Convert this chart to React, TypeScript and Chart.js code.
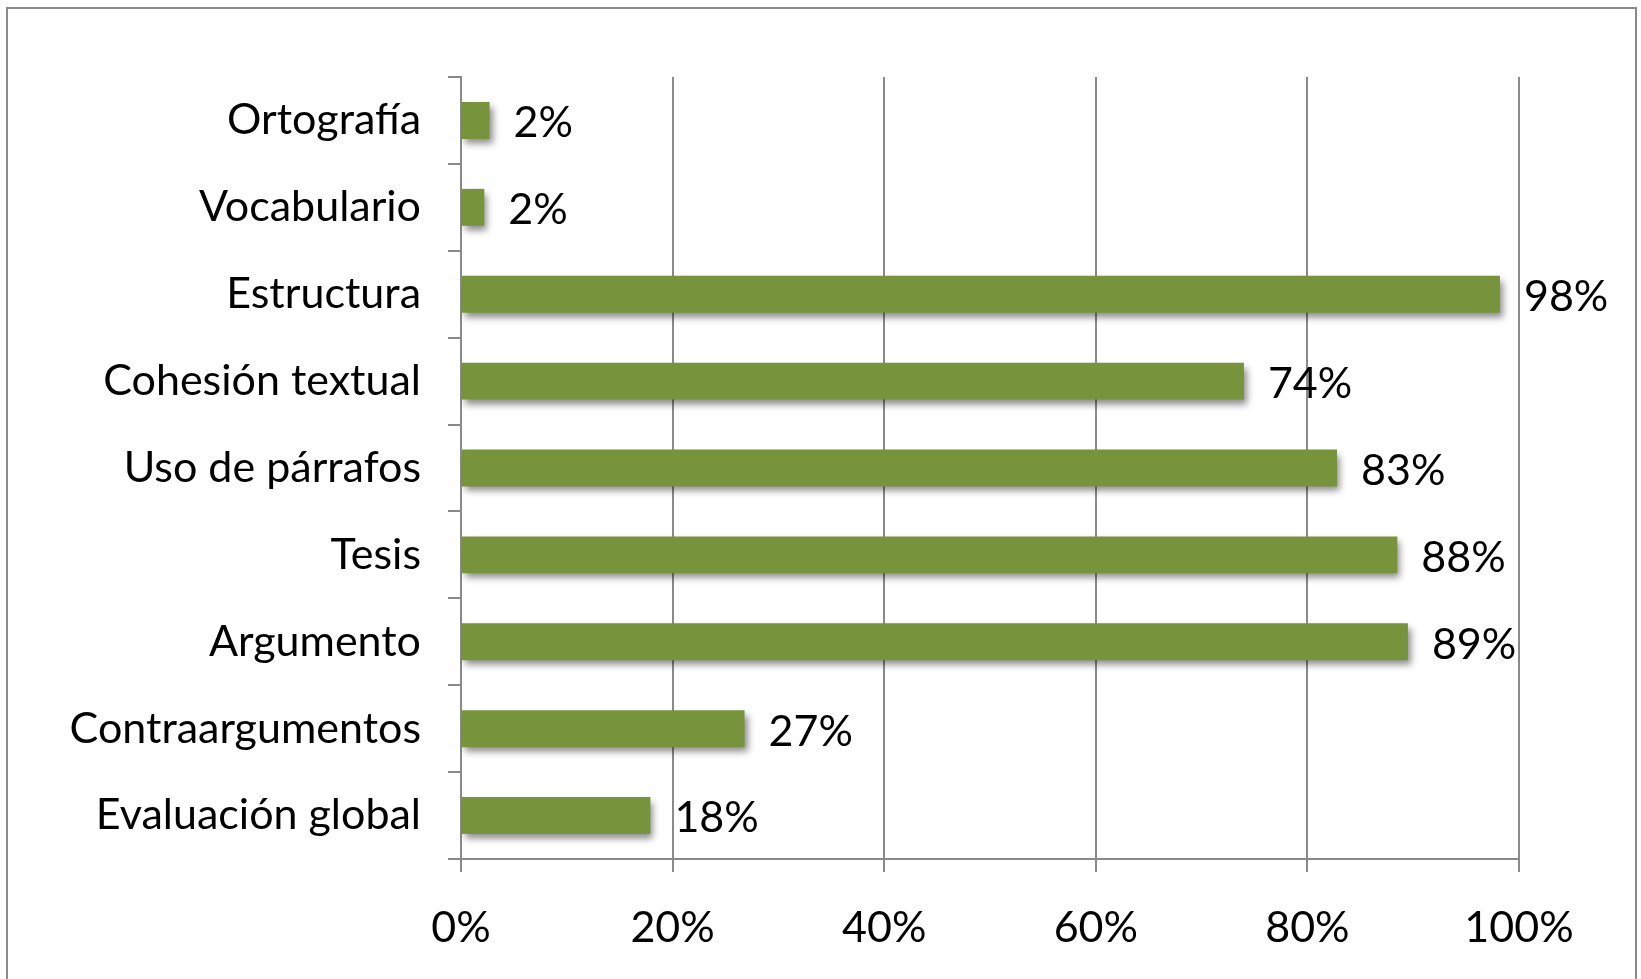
import React, { useEffect, useRef } from "react";
import { Chart, registerables } from "chart.js";

Chart.register(...registerables);

const categories = [
  "Ortografía",
  "Vocabulario",
  "Estructura",
  "Cohesión textual",
  "Uso de párrafos",
  "Tesis",
  "Argumento",
  "Contraargumentos",
  "Evaluación global",
];
const values = [2.7, 2.2, 98.2, 74.0, 82.8, 88.5, 89.5, 26.8, 17.9];
const valueLabels = ["2%", "2%", "98%", "74%", "83%", "88%", "89%", "27%", "18%"];
const xTicks = [0, 20, 40, 60, 80, 100];

const FONT = "Lato, 'Open Sans', sans-serif";
const FONT_SIZE = 43;
const GRAY = "#8a8a8a";

const framePlugin = {
  id: "frame",
  beforeDraw(chart: any) {
    const ctx = chart.ctx;
    ctx.save();
    ctx.fillStyle = "#ffffff";
    ctx.fillRect(0, 0, chart.width, chart.height);
    ctx.strokeStyle = GRAY;
    ctx.lineWidth = 2;
    ctx.strokeRect(7, 8, 1629, 1000);
    ctx.restore();
  },
};

const shadowPlugin = {
  id: "barShadow",
  beforeDatasetDraw(chart: any) {
    const ctx = chart.ctx;
    ctx.save();
    ctx.shadowColor = "rgba(0,0,0,0.45)";
    ctx.shadowBlur = 7;
    ctx.shadowOffsetX = 3;
    ctx.shadowOffsetY = 5;
  },
  afterDatasetDraw(chart: any) {
    chart.ctx.restore();
  },
};

const labelPlugin = {
  id: "valueLabels",
  afterDatasetsDraw(chart: any) {
    const ctx = chart.ctx;
    const meta = chart.getDatasetMeta(0);
    ctx.save();
    ctx.font = `${FONT_SIZE}px ${FONT}`;
    ctx.fillStyle = "#000000";
    ctx.textAlign = "left";
    ctx.textBaseline = "middle";
    meta.data.forEach((el: any, i: number) => {
      ctx.fillText(valueLabels[i], el.x + 24, el.y + 3);
    });
    ctx.restore();
  },
};

export default function App() {
  const ref = useRef<HTMLCanvasElement | null>(null);

  useEffect(() => {
    if (!ref.current) return;
    const chart = new Chart(ref.current, {
      type: "bar",
      data: {
        labels: categories,
        datasets: [
          {
            data: values,
            backgroundColor: "#77933C",
            borderWidth: 0,
            categoryPercentage: 1,
            barPercentage: 0.425,
          },
        ],
      },
      options: {
        indexAxis: "y",
        responsive: false,
        animation: false,
        devicePixelRatio: 1,
        layout: { padding: { top: 77, right: 122, left: 0, bottom: 0 } },
        plugins: {
          legend: { display: false },
          tooltip: { enabled: false },
        },
        scales: {
          x: {
            min: 0,
            max: 100,
            afterFit(scale: any) {
              scale.height = 120;
            },
            afterBuildTicks(scale: any) {
              scale.ticks = xTicks.map((v) => ({ value: v }));
            },
            grid: {
              color: GRAY,
              lineWidth: 2,
              tickLength: 13,
              drawTicks: true,
            },
            border: { color: GRAY, width: 2 },
            ticks: {
              color: "#000000",
              font: { family: FONT, size: FONT_SIZE },
              padding: 30,
              maxRotation: 0,
              callback: (v: any) => `${v}%`,
            },
          },
          y: {
            afterFit(scale: any) {
              scale.width = 461;
            },
            grid: {
              display: true,
              drawOnChartArea: false,
              drawTicks: true,
              tickLength: 13,
              offset: true,
              color: GRAY,
              lineWidth: 2,
            },
            border: { color: GRAY, width: 2 },
            ticks: {
              color: "#000000",
              font: { family: FONT, size: FONT_SIZE },
              padding: 27,
            },
          },
        },
      },
      plugins: [framePlugin, shadowPlugin, labelPlugin],
    });
    return () => chart.destroy();
  }, []);

  return (
    <div style={{ position: "absolute", left: 0, top: 0, width: 1641, height: 979, overflow: "hidden" }}>
      <canvas ref={ref} width={1641} height={979} style={{ display: "block" }} />
    </div>
  );
}
